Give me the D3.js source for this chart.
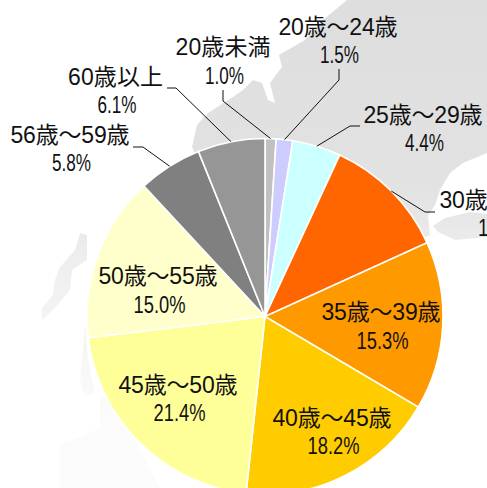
<!DOCTYPE html>
<html lang="ja"><head><meta charset="utf-8">
<script src="https://cdnjs.cloudflare.com/ajax/libs/d3/7.8.5/d3.min.js"></script>
<style>html,body{margin:0;padding:0;background:#fff;overflow:hidden}svg{display:block}text{font-family:"Liberation Sans","Noto Sans CJK JP",sans-serif;fill:#111}</style>
</head><body><div id="c"></div>
<script>
const categories = ["20歳未満","20歳～24歳","25歳～29歳","30歳～34歳","35歳～39歳","40歳～45歳","45歳～50歳","50歳～55歳","56歳～59歳","60歳以上"];
const shares = [1.0,1.5,4.4,11.3,15.3,18.2,21.4,15.0,5.8,6.1];
const sliceColors = ["#c0c0c0","#ccccff","#ccffff","#ff6600","#ff9900","#ffcc00","#ffff99","#ffffcc","#808080","#969696"];

// label layout: [x centre, name baseline, value baseline, elbow points or null, value x shift]
const layout = [
 [223,55,84,[[223,90],[223,101]],1.5],
 [338,35,63,[[339,69],[339,80]],1.5],
 [423,123,151,[[360,126],[350,126]],1.5],
 [499,208,236,[[435,212],[425,212]],5],
 [381,320,349,null,1.5],
 [332,426,454,null,1.5],
 [178,393,421,null,1.5],
 [158,284,313,null,1.5],
 [70,143,171,[[133,147],[143,147]],1.5],
 [115.5,85,113,[[167,88],[176,88]],1.5]
];

// faint map in the backdrop (decoration, not data)
const backdrop = [
 [[347,0],[487,0],[487,153],[463,163],[450,173],[440,190],[435,205],[428,216],[430,235],[265,317],[192,147],[197,125],[208,113],[233,97],[243,90],[253,80],[262,83],[268,100],[275,103],[270,83],[282,67],[279,55],[305,40],[323,20]],
 [[433,226],[445,218],[470,212],[487,214],[487,237],[455,240],[438,232]],
 [[80,233],[87,235],[87,260],[72,270],[70,290],[55,308],[42,320],[42,308],[53,295],[55,280],[60,267],[75,250]],
 [[85,323],[88,360],[95,393],[85,397],[80,380],[83,350]],
 [[100,400],[110,390],[130,430],[160,488],[60,488],[60,445],[85,435],[100,428]]
];

const W=487,H=488,cx=265,cy=316.5,R=178;
const svg=d3.select("#c").append("svg").attr("width",W).attr("height",H);
const grad=svg.append("defs").append("linearGradient").attr("id","fade")
  .attr("gradientUnits","userSpaceOnUse").attr("x1",0).attr("x2",0).attr("y1",0).attr("y2",H);
[[0,"#dedede"],[0.38,"#e2e2e2"],[0.46,"#e8e8e8"],[0.52,"#eeeeee"],[0.72,"#f6f6f6"],[0.85,"#fbfbfb"],[1,"#fcfcfc"]]
  .forEach(([o,c])=>grad.append("stop").attr("offset",o).attr("stop-color",c));
const outline=d3.line().curve(d3.curveLinearClosed);
svg.append("g").selectAll("path").data(backdrop).join("path").attr("d",outline).attr("fill","url(#fade)");

const pie=d3.pie().sort(null).value(d=>d);
const arcs=pie(shares);
const arc=d3.arc().innerRadius(0).outerRadius(R);
const g=svg.append("g").attr("transform",`translate(${cx},${cy})`);
g.selectAll("path").data(arcs).join("path").attr("d",arc)
  .attr("fill",(d,i)=>sliceColors[i]).attr("stroke","#fff").attr("stroke-width",1.6);

const leader=d3.line();
svg.append("g").selectAll("path").data(arcs.filter((d,i)=>layout[i][3])).join("path")
  .attr("fill","none").attr("stroke","#111").attr("stroke-width",1)
  .attr("d",d=>{
    const mid=(d.startAngle+d.endAngle)/2, p=d3.pointRadial(mid,R);
    return leader([...layout[d.index][3],[p[0]+cx,p[1]+cy]]);
  });

const nameW=s=>Array.from(s).reduce((a,c)=>a+(/[0-9]/.test(c)?12:24),0);
const tg=svg.append("g");
categories.forEach((name,i)=>{
  const [x,y1,y2,,dx]=layout[i];
  tg.append("text").attr("x",x).attr("y",y1).attr("text-anchor","middle").attr("font-size",23)
    .attr("textLength",nameW(name)-1).attr("lengthAdjust","spacing").text(name);
  const v=shares[i].toFixed(1)+"%";
  tg.append("text").attr("x",x+dx).attr("y",y2).attr("text-anchor","middle").attr("font-size",24)
    .attr("textLength",v.length*13-13).attr("lengthAdjust","spacingAndGlyphs").text(v);
});
</script></body></html>
